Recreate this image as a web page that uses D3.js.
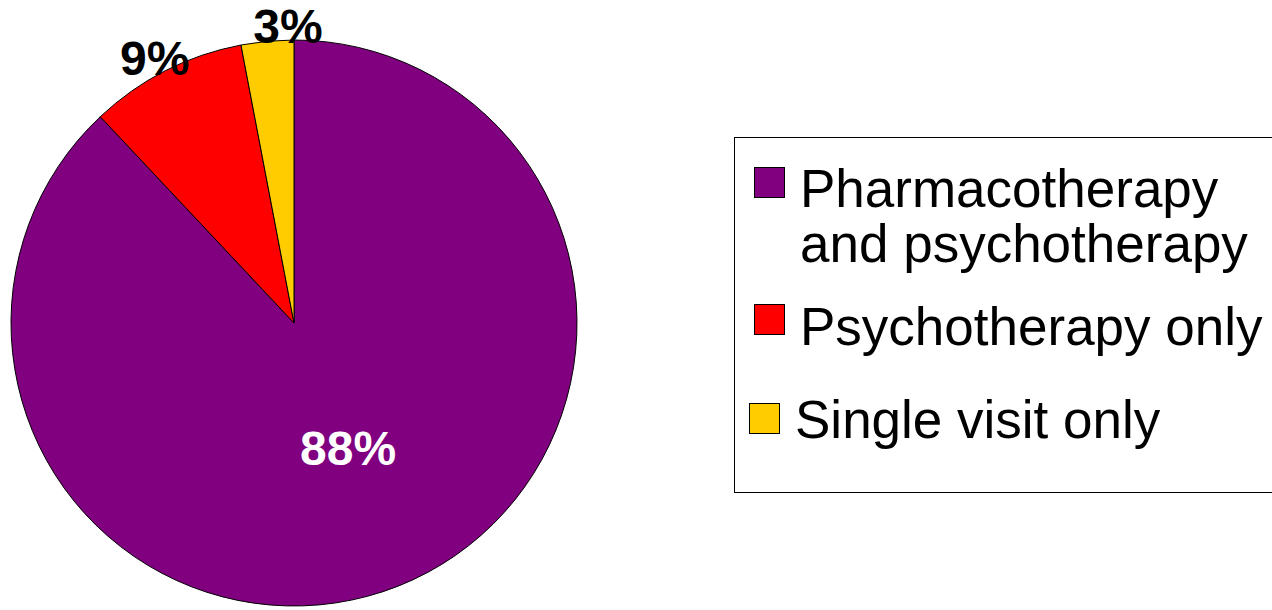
<!DOCTYPE html>
<html>
<head>
<meta charset="utf-8">
<script src="https://cdn.jsdelivr.net/npm/d3@7"></script>
<style>
  body { margin: 0; background: #fff; }
  svg { display: block; font-family: "Liberation Sans", Arial, sans-serif; }
</style>
</head>
<body>
<div id="pie-viz"></div>
<script>
// chart data
const categories = ["Pharmacotherapy and psychotherapy", "Psychotherapy only", "Single visit only"];
const shares = [88, 9, 3];
const sliceColors = ["#800080", "#ff0000", "#ffcc00"];
// legend text, one entry per line
const legendLines = [["Pharmacotherapy", "and psychotherapy"], ["Psychotherapy only"], ["Single visit only"]];

const width = 1272, height = 610;
const cx = 294, cy = 323, radius = 283;

const svg = d3.select("#pie-viz")
  .append("svg")
  .attr("width", width)
  .attr("height", height);

const pie = d3.pie().sort(null).value(d => d);
const arcs = pie(shares);

const arc = d3.arc().innerRadius(0).outerRadius(radius);
const innerLabelArc = d3.arc().innerRadius(0).outerRadius(radius);
const outerLabelArc = d3.arc().innerRadius(2 * 298).outerRadius(0);

const g = svg.append("g").attr("transform", `translate(${cx},${cy})`);

g.selectAll("path")
  .data(arcs)
  .join("path")
  .attr("d", arc)
  .attr("fill", (d, i) => sliceColors[i])
  .attr("stroke", "#000")
  .attr("stroke-width", 1);

// the big slice gets its label inside, the small ones outside
// small hand nudges so labels sit where the original puts them
const labelNudge = [[2, -6], [-4, 1], [22, 0]];
g.selectAll("text.pct")
  .data(arcs)
  .join("text")
  .attr("class", "pct")
  .attr("transform", (d, i) => {
    const [x, y] = i === 0 ? innerLabelArc.centroid(d) : outerLabelArc.centroid(d);
    return `translate(${x + labelNudge[i][0]},${y + labelNudge[i][1]})`;
  })
  .attr("text-anchor", "middle")
  .attr("dy", "0.35em")
  .attr("font-size", 48)
  .attr("font-weight", "bold")
  .attr("fill", (d, i) => i === 0 ? "#fff" : "#000")
  .text(d => d.data + "%");

// legend
const legend = svg.append("g");
legend.append("rect")
  .attr("x", 734.5)
  .attr("y", 137.5)
  .attr("width", 600)
  .attr("height", 355)
  .attr("fill", "#fff")
  .attr("stroke", "#000")
  .attr("stroke-width", 1);

const rowLayout = [
  { sx: 754, sy: 167, tx: 800, ty: 207 },
  { sx: 754, sy: 304, tx: 800, ty: 345 },
  { sx: 749, sy: 403, tx: 795, ty: 438 }
];

const rows = legend.selectAll("g.row")
  .data(categories)
  .join("g")
  .attr("class", "row");

rows.append("rect")
  .attr("x", (d, i) => rowLayout[i].sx + 0.5)
  .attr("y", (d, i) => rowLayout[i].sy + 0.5)
  .attr("width", 30)
  .attr("height", 30)
  .attr("fill", (d, i) => sliceColors[i])
  .attr("stroke", "#000")
  .attr("stroke-width", 1);

rows.append("text")
  .attr("x", (d, i) => rowLayout[i].tx)
  .attr("y", (d, i) => rowLayout[i].ty)
  .attr("font-size", 53)
  .attr("fill", "#000")
  .selectAll("tspan")
  .data((d, i) => legendLines[i].map(line => ({ line, i })))
  .join("tspan")
  .attr("x", d => rowLayout[d.i].tx)
  .attr("dy", (d, j) => j === 0 ? 0 : 55)
  .text(d => d.line);
</script>
</body>
</html>
